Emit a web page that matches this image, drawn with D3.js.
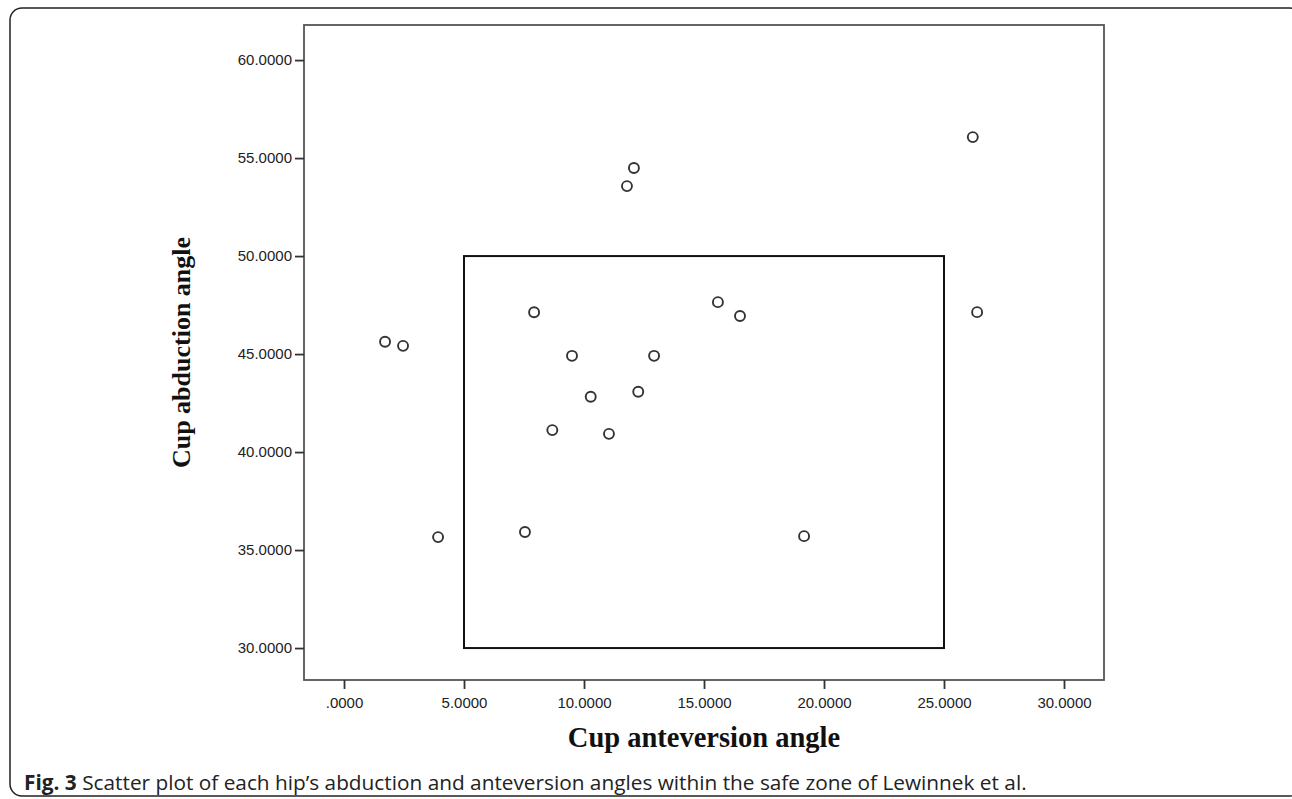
<!DOCTYPE html>
<html>
<head>
<meta charset="utf-8">
<script src="https://cdn.jsdelivr.net/npm/d3@7"></script>
<style>
  body { margin: 0; background: #fff; }
</style>
</head>
<body>
<div id="chart"></div>
<script>
// data
const anteversion = [1.71, 2.46, 3.92, 7.54, 7.92, 8.68, 9.5, 10.28, 11.04, 11.79, 12.08, 12.26, 12.92, 15.58, 16.5, 19.17, 26.2, 26.38];
const abduction   = [45.63, 45.42, 35.66, 35.92, 47.13, 41.12, 44.91, 42.82, 40.93, 53.57, 54.49, 43.08, 44.91, 47.65, 46.94, 35.71, 56.07, 47.14];
const xTicks = [0, 5, 10, 15, 20, 25, 30];
const yTicks = [30, 35, 40, 45, 50, 55, 60];
const safeZone = { x: [5, 25], y: [30, 50] };

const W = 1292, H = 799;
const svg = d3.select("#chart").append("svg")
    .attr("width", W).attr("height", H);

// outer frame
svg.append("rect")
    .attr("x", 10).attr("y", 8)
    .attr("width", 1292).attr("height", 788)
    .attr("rx", 12)
    .attr("fill", "none").attr("stroke", "#222").attr("stroke-width", 1.5);

// plot area
const pL = 304, pR = 1104, pT = 25, pB = 680;
const x = d3.scaleLinear().domain([-1.667, 31.667]).range([pL, pR]);
const y = d3.scaleLinear().domain([28.37, 61.79]).range([pB, pT]);

const fmt = v => d3.format(".4f")(v).replace(/^0\./, ".");

svg.append("rect")
    .attr("x", pL).attr("y", pT)
    .attr("width", pR - pL).attr("height", pB - pT)
    .attr("fill", "none").attr("stroke", "#555").attr("stroke-width", 1.8);

const xAxis = svg.append("g")
    .attr("transform", `translate(0,${pB})`)
    .call(d3.axisBottom(x).tickValues(xTicks).tickFormat(fmt).tickSize(9).tickPadding(8));
const yAxis = svg.append("g")
    .attr("transform", `translate(${pL},0)`)
    .call(d3.axisLeft(y).tickValues(yTicks).tickFormat(fmt).tickSize(9).tickPadding(3));

[xAxis, yAxis].forEach(g => {
    g.select(".domain").remove();
    g.selectAll(".tick line").attr("stroke", "#333").attr("stroke-width", 1.8);
    g.selectAll(".tick text")
        .attr("fill", "#222")
        .style("font-family", "Liberation Sans, Arial, sans-serif")
        .style("font-size", "15px");
});

// safe zone box
svg.append("rect")
    .attr("x", x(safeZone.x[0])).attr("y", y(safeZone.y[1]))
    .attr("width", x(safeZone.x[1]) - x(safeZone.x[0]))
    .attr("height", y(safeZone.y[0]) - y(safeZone.y[1]))
    .attr("fill", "none").attr("stroke", "#111").attr("stroke-width", 2);

// points
svg.selectAll("circle.pt")
    .data(anteversion.map((a, i) => ({ a: a, b: abduction[i] })))
    .enter()
    .append("circle")
    .attr("class", "pt")
    .attr("cx", d => x(d.a))
    .attr("cy", d => y(d.b))
    .attr("r", 5)
    .attr("fill", "none")
    .attr("stroke", "#333")
    .attr("stroke-width", 1.9);

// axis titles
svg.append("text")
    .attr("x", 704).attr("y", 747)
    .attr("text-anchor", "middle")
    .style("font-family", "Liberation Serif, Times New Roman, serif")
    .style("font-weight", "bold").style("font-size", "28.5px")
    .attr("fill", "#111")
    .text("Cup anteversion angle");

svg.append("text")
    .attr("transform", `translate(190,${(pT + pB) / 2}) rotate(-90)`)
    .attr("text-anchor", "middle")
    .style("font-family", "Liberation Serif, Times New Roman, serif")
    .style("font-weight", "bold").style("font-size", "26px")
    .attr("fill", "#111")
    .text("Cup abduction angle");

// caption
const cap = svg.append("text")
    .attr("x", 24).attr("y", 790)
    .style("font-family", "Open Sans, Noto Sans, sans-serif")
    .style("font-size", "20.8px")
    .attr("fill", "#222");
cap.append("tspan").style("font-weight", "bold").text("Fig. 3");
cap.append("tspan").text(" Scatter plot of each hip\u2019s abduction and anteversion angles within the safe zone of Lewinnek et al.");
</script>
</body>
</html>
